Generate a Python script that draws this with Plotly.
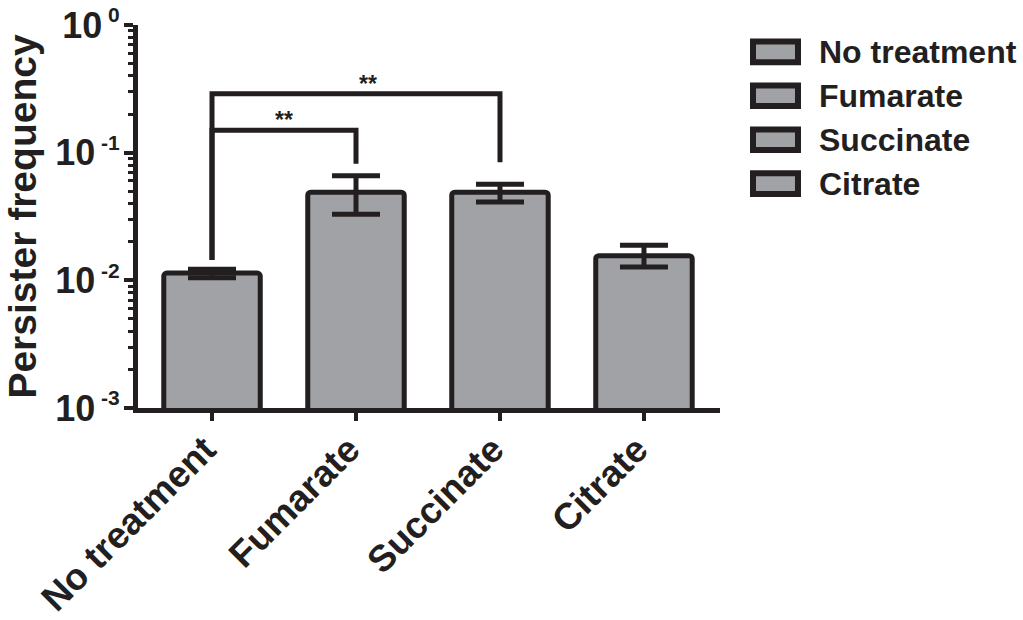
import math
import plotly.graph_objects as go

# Persister frequency per treatment (mean with upper / lower error)
categories = ["No treatment", "Fumarate", "Succinate", "Citrate"]
frequency = [0.0114, 0.049, 0.049, 0.0156]
err_plus = [0.0008, 0.0168, 0.0076, 0.0032]
err_minus = [0.0009, 0.0160, 0.0079, 0.0029]

# Significance brackets: (left category, right category)
bracket_pairs = [("No treatment", "Fumarate"), ("No treatment", "Succinate")]
bracket_top = [0.15, 0.29]
bracket_left_end = [0.0144, 0.0144]
bracket_right_end = [0.082, 0.084]
bracket_labels = ["**", "**"]
bracket_label_x = [0.5, 1.08]

# Axis tick labels (powers of ten)
tick_values = [1e-3, 1e-2, 1e-1, 1e0]
tick_exponents = ["-3", "-2", "-1", "0"]
tick_labels = ["10<sup><span style='font-size:21px'> " + e + "</span></sup>" for e in tick_exponents]

INK = "#231f20"
FILL = "#a1a2a6"
FONT = "Liberation Sans, Arial, sans-serif"


def bold(size):
    return dict(family=FONT, size=size, color=INK, weight="bold")


fig = go.Figure()

fig.add_trace(go.Bar(
    x=categories,
    y=frequency,
    width=0.67,
    marker=dict(color=FILL, line=dict(color=INK, width=5), cornerradius=3),
    error_y=dict(type="data", array=err_plus, arrayminus=err_minus,
                 color=INK, thickness=5, width=24),
    showlegend=False,
))

for (a, b), top, lo, ro in zip(bracket_pairs, bracket_top, bracket_left_end, bracket_right_end):
    fig.add_trace(go.Scatter(
        x=[a, a, b, b], y=[lo, top, top, ro], mode="lines",
        line=dict(color=INK, width=5), showlegend=False, hoverinfo="skip",
    ))

for lx, top, lab in zip(bracket_label_x, bracket_top, bracket_labels):
    fig.add_annotation(x=lx, y=math.log10(top), xref="x", yref="y", text=lab,
                       showarrow=False, yanchor="bottom", yshift=-5,
                       font=bold(23))

# Legend keys drawn as outlined boxes beside the plot
leg_x0, leg_x1, leg_text_x = 1.0567, 1.134, 1.166
leg_y_top, leg_step, leg_half = 0.93, 0.1148, 0.027
for i, name in enumerate(categories):
    yc = leg_y_top - i * leg_step
    fig.add_shape(type="rect", xref="paper", yref="paper",
                  x0=leg_x0, x1=leg_x1, y0=yc - leg_half, y1=yc + leg_half,
                  line=dict(color=INK, width=6), fillcolor=FILL)
    fig.add_annotation(xref="paper", yref="paper", x=leg_text_x, y=yc, text=name,
                       showarrow=False, xanchor="left", yanchor="middle",
                       font=bold(32))

fig.update_layout(
    width=1023, height=620,
    margin=dict(l=138, r=303, t=25, b=212),
    paper_bgcolor="white", plot_bgcolor="white",
    font=dict(family=FONT, color=INK),
)

fig.update_xaxes(
    range=[-0.514, 3.528], automargin=False,
    showline=True, linecolor=INK, linewidth=5,
    ticks="outside", ticklen=8, tickwidth=4, tickcolor=INK,
    tickangle=-45, tickfont=bold(37),
    ticklabelstandoff=-8, ticklabelshift=-7,
    showgrid=False, zeroline=False,
)

fig.update_yaxes(
    type="log", range=[-3, 0], automargin=False,
    showline=True, linecolor=INK, linewidth=5,
    tickmode="array", tickvals=tick_values, ticktext=tick_labels,
    ticks="outside", ticklen=9, tickwidth=4, tickcolor=INK,
    tickfont=bold(36), ticklabeloverflow="allow", ticklabelstandoff=-3,
    minor=dict(dtick="D1", ticks="outside", ticklen=5, tickwidth=3, tickcolor=INK, showgrid=False),
    showgrid=False, zeroline=False,
    title=dict(text="Persister frequency", standoff=8, font=bold(39)),
)

fig.write_html("out.html")
